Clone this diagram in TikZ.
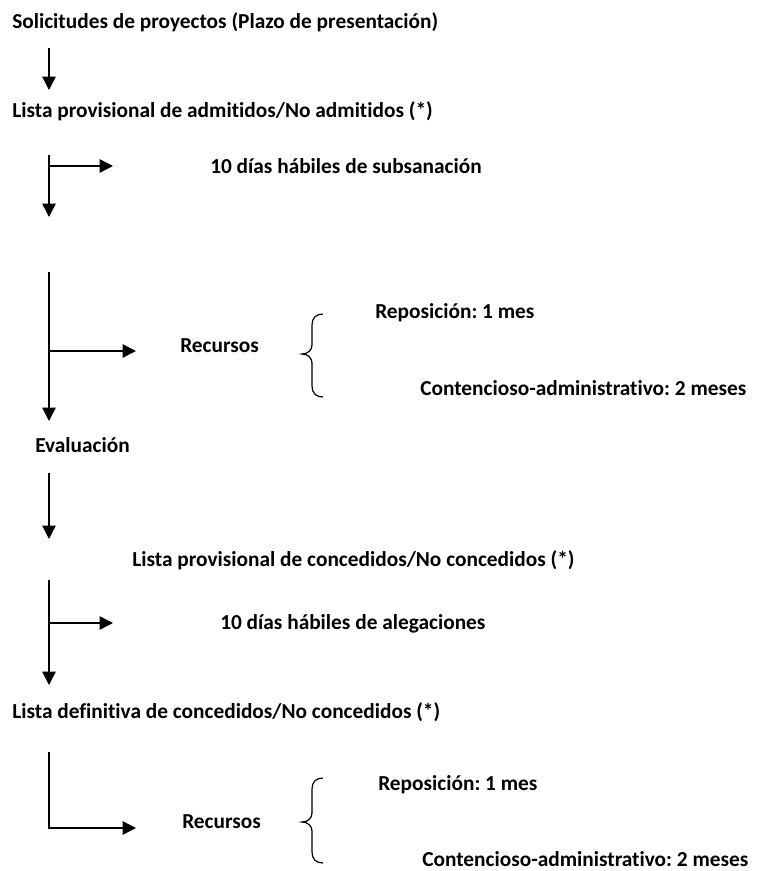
\documentclass[tikz,border=0pt]{standalone}
\usepackage{fontspec}
\setmainfont{Carlito}[Ligatures=NoCommon]
\frenchspacing
\usetikzlibrary{arrows.meta}
\begin{document}
\frenchspacing
\begin{tikzpicture}[x=0.75pt,y=-0.75pt,
  txt/.style={anchor=base west,inner sep=0pt,font=\fontsize{16}{19}\selectfont\bfseries},
  flow/.style={line width=1.1pt,-{Triangle[length=10pt,width=10pt]}},
  brace/.style={line width=0.9pt}]
\useasboundingbox (0,0) rectangle (757,871);
% texts
\node[txt] (t1) at (12,28) {Solicitudes de proyectos (Plazo de presentación)};
\node[txt] (t2) at (12,117) {Lista provisional de admitidos/No admitidos (*)};
\node[txt] (t3) at (210,173) {10 días hábiles de subsanación};
\node[txt] (r1) at (180,352) {Recursos};
\node[txt] (rp1) at (375,318) {Reposición: 1 mes};
\node[txt] (ca1) at (420,395) {Contencioso-administrativo: 2 meses};
\node[txt] (t4) at (35,452) {Evaluación};
\node[txt] (t5) at (132,566) {Lista provisional de concedidos/No concedidos (*)};
\node[txt] (t6) at (220,629) {10 días hábiles de alegaciones};
\node[txt] (t7) at (12,718) {Lista definitiva de concedidos/No concedidos (*)};
\node[txt] (r2) at (182,828) {Recursos};
\node[txt] (rp2) at (378,790) {Reposición: 1 mes};
\node[txt] (ca2) at (422,866) {Contencioso-administrativo: 2 meses};
% arrow coordinates
\coordinate (a1s) at (49,48);  \coordinate (a1e) at (49,90);
\coordinate (a2s) at (49,155); \coordinate (a2e) at (49,217);
\coordinate (b2s) at (49,166); \coordinate (b2e) at (113,166);
\coordinate (a3s) at (49,272); \coordinate (a3e) at (49,421);
\coordinate (b3s) at (49,351); \coordinate (b3e) at (136,351);
\coordinate (a4s) at (49,473); \coordinate (a4e) at (49,539);
\coordinate (a5s) at (49,580); \coordinate (a5e) at (49,685);
\coordinate (b5s) at (49,623); \coordinate (b5e) at (113,623);
\coordinate (a6s) at (49,752); \coordinate (a6c) at (49,828);
\coordinate (a6e) at (136,828);
% arrows
\draw[flow] (a1s) -- (a1e);
\draw[flow] (a2s) -- (a2e);
\draw[flow] (b2s) -- (b2e);
\draw[flow] (a3s) -- (a3e);
\draw[flow] (b3s) -- (b3e);
\draw[flow] (a4s) -- (a4e);
\draw[flow] (a5s) -- (a5e);
\draw[flow] (b5s) -- (b5e);
\draw[flow] (a6s) -- (a6c) -- (a6e);
% braces
\draw[brace] (323,314) .. controls (316,314) and (312,318) .. (312,325) -- (312,345)
  .. controls (312,350) and (308,354) .. (302,354)
  .. controls (308,354) and (312,358) .. (312,363) -- (312,386)
  .. controls (312,393) and (316,397) .. (323,397);
\draw[brace] (323,778) .. controls (316,778) and (312,782) .. (312,789) -- (312,813)
  .. controls (312,818) and (308,822) .. (302,822)
  .. controls (308,822) and (312,826) .. (312,831) -- (312,852)
  .. controls (312,859) and (316,863) .. (323,863);
\end{tikzpicture}
\end{document}
